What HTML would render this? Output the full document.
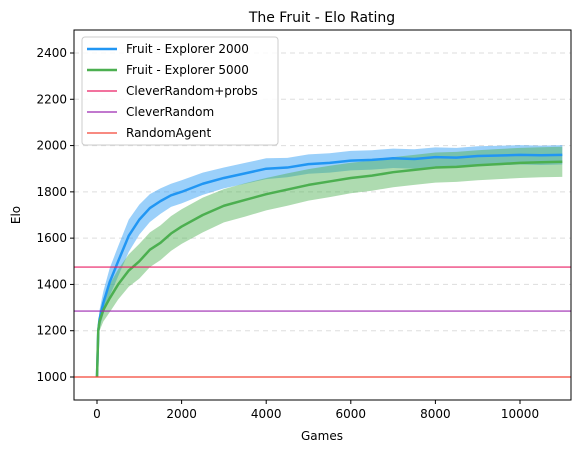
<!DOCTYPE html>
<html><head><meta charset="utf-8"><style>
body{margin:0;background:#fff;font-family:"DejaVu Sans","Liberation Sans",sans-serif;}
svg text{font-family:"DejaVu Sans","Liberation Sans",sans-serif;}
</style></head><body>
<svg id="chart" width="580" height="453" viewBox="0 0 580 453">
<rect width="580" height="453" fill="#fff"/>
<g id="grid"></g>
<g id="bands"></g>
<g id="lines"></g>
<rect x="74" y="30" width="497" height="370" fill="none" stroke="#000" stroke-width="1"/>
<g id="axes"></g>
<text x="322" y="22" text-anchor="middle" font-size="14">The Fruit - Elo Rating</text>
<text x="322" y="440" text-anchor="middle" font-size="12">Games</text>
<text x="20" y="215" text-anchor="middle" font-size="12" transform="rotate(-90 20 215)">Elo</text>
<g>
<rect x="82" y="37" width="196" height="108" fill="#fff" fill-opacity="0.85" stroke="#ccc" rx="3"/>
<g><line x1="87" y1="49" x2="117" y2="49" stroke="#2196f3" stroke-width="2.5"/><text x="126" y="53" font-size="12">Fruit - Explorer 2000</text></g>
<g><line x1="87" y1="70" x2="117" y2="70" stroke="#4caf50" stroke-width="2.5"/><text x="126" y="74" font-size="12">Fruit - Explorer 5000</text></g>
<g><line x1="87" y1="91" x2="117" y2="91" stroke="#e91e63" stroke-width="1.2"/><text x="126" y="95" font-size="12">CleverRandom+probs</text></g>
<g><line x1="87" y1="112" x2="117" y2="112" stroke="#9c27b0" stroke-width="1.2"/><text x="126" y="116" font-size="12">CleverRandom</text></g>
<g><line x1="87" y1="133" x2="117" y2="133" stroke="#f44336" stroke-width="1.2"/><text x="126" y="137" font-size="12">RandomAgent</text></g>
</g>
</svg>
<script>
const games = [0,30,60,150,300,500,750,1000,1250,1500,1750,2000,2500,3000,3500,4000,4500,5000,5500,6000,6500,7000,7500,8000,8500,9000,9500,10000,10500,11000];
const explorer2000 = [1000,1200,1250,1320,1410,1500,1610,1680,1730,1760,1785,1800,1835,1860,1880,1900,1905,1920,1925,1935,1938,1945,1942,1950,1948,1955,1957,1960,1958,1960];
const explorer2000Err = [0,30,40,50,60,65,70,65,60,55,50,50,48,45,45,45,42,42,42,42,42,42,42,42,42,42,42,42,42,42];
const explorer5000 = [1000,1200,1240,1290,1340,1400,1460,1500,1550,1580,1620,1650,1700,1740,1765,1790,1810,1830,1845,1860,1870,1885,1895,1905,1908,1915,1920,1925,1928,1930];
const explorer5000Err = [0,30,40,50,60,65,70,75,75,75,75,75,75,72,72,70,70,68,68,66,65,65,65,65,65,65,65,65,65,65];
const baselineNames = ["CleverRandom+probs","CleverRandom","RandomAgent"];
const baselineValues = [1475,1285,1000];
const baselineColors = ["#e91e63","#9c27b0","#f44336"];
const yTicks = [1000,1200,1400,1600,1800,2000,2200,2400];
const xTicks = [0,2000,4000,6000,8000,10000];

const X = v => 97 + v*(423/10000);
const Y = v => 377 - (v-1000)*(324/1400);
const NS = "http://www.w3.org/2000/svg";
function mk(tag, attrs, parent){const e=document.createElementNS(NS,tag);for(const k in attrs)e.setAttribute(k,attrs[k]);parent.appendChild(e);return e;}
const grid=document.getElementById('grid'), axes=document.getElementById('axes'), bands=document.getElementById('bands'), lines=document.getElementById('lines');

yTicks.forEach(t=>{
  const g=mk('line',{x1:74,x2:571,y1:Y(t),y2:Y(t),stroke:'#ddd','stroke-dasharray':'5,4','stroke-width':1},grid);
  
  
  mk('line',{x1:70,x2:74,y1:Y(t),y2:Y(t),stroke:'#000'},axes);
  const tx=mk('text',{x:67,y:Y(t)+4,'text-anchor':'end','font-size':12},axes);
  tx.textContent=t;
  
  
});
xTicks.forEach(t=>{
  mk('line',{x1:X(t),x2:X(t),y1:400,y2:404,stroke:'#000'},axes);
  const tx=mk('text',{x:X(t),y:418,'text-anchor':'middle','font-size':12},axes);
  tx.textContent=t;
  
  
});

function series(vals, err, color, band, name){
  let up=games.map((g,i)=>X(g)+','+Y(vals[i]+err[i]));
  let dn=games.map((g,i)=>X(g)+','+Y(vals[i]-err[i])).reverse();
  const b=mk('polygon',{points:up.concat(dn).join(' '),fill:band,'fill-opacity':0.45},bands);
  
  
  const l=mk('polyline',{points:games.map((g,i)=>X(g)+','+Y(vals[i])).join(' '),fill:'none',stroke:color,'stroke-width':2.5,'stroke-linejoin':'round'},lines);
  
  
}
series(explorer2000, explorer2000Err, '#2196f3', '#2196f3', 'explorer-2000');
series(explorer5000, explorer5000Err, '#4caf50', '#4caf50', 'explorer-5000');
baselineValues.forEach((v,i)=>{
  const l=mk('line',{x1:74,x2:571,y1:Y(v),y2:Y(v),stroke:baselineColors[i],'stroke-width':1.2},lines);
  
  
});
</script>
</body></html>
